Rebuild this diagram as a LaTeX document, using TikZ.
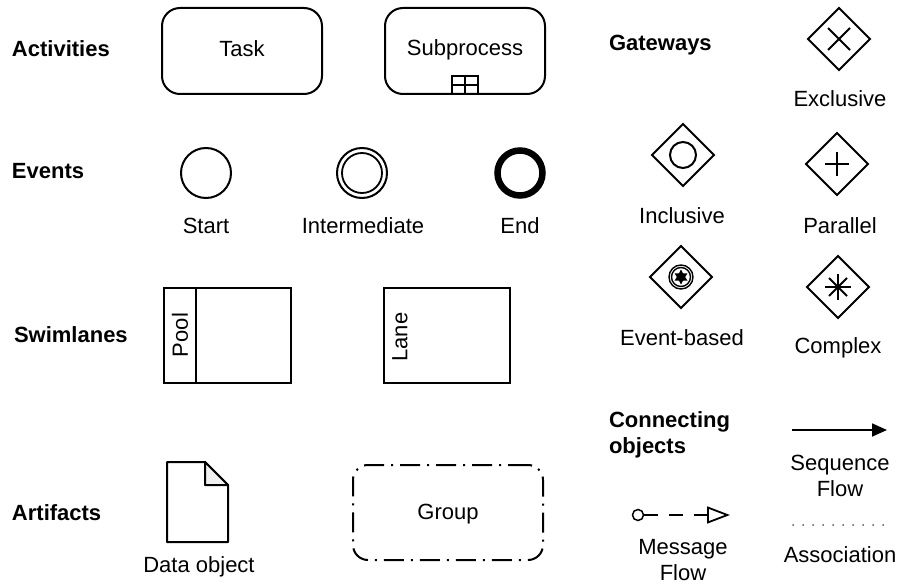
\documentclass[tikz,border=0pt]{standalone}
\usepackage{fontspec}
\setmainfont{Liberation Sans}
\usetikzlibrary{shapes.geometric,arrows.meta}
\begin{document}
\begin{tikzpicture}[x=1pt,y=-1pt,
  every node/.style={font=\fontsize{22}{26}\selectfont, inner sep=0pt, outer sep=0pt},
  heading/.style={anchor=west, font=\fontsize{22}{26}\selectfont\bfseries},
  caption/.style={align=center},
  activity/.style={draw, line width=2pt, rounded corners=18pt, minimum width=160pt, minimum height=86pt},
  gateway/.style={draw, diamond, aspect=1, line width=2pt, minimum width=62pt, minimum height=62pt},
  event/.style={draw, circle, line width=2pt, minimum size=50pt},
  lanebox/.style={draw, line width=2pt, minimum width=127pt, minimum height=95pt},
  glyph/.style={line width=2pt},
]
\useasboundingbox (0,0) rectangle (898,586);

% section headings
\node[heading] (hact) at (12,49) {Activities};
\node[heading] (hev) at (12,171) {Events};
\node[heading] (hswim) at (14,335) {Swimlanes};
\node[heading] (hart) at (12,513) {Artifacts};
\node[heading] (hgw) at (609,45) {Gateways};
\node[heading, align=left] (hcon) at (609,435) {Connecting\\objects};

% activities
\node[activity] (task) at (242,51) {};
\node (ltask) at (242,49) {Task};
\node[activity] (sub) at (465,51) {};
\node (lsub) at (465,50) {Subprocess};
\node[draw, line width=1.8pt, minimum width=26pt, minimum height=18pt, anchor=south] (mk) at (sub.south) {};
\draw[line width=1.8pt] (mk.north) -- (mk.south);
\draw[line width=1.8pt] (mk.west) -- (mk.east);

% events
\node[event] (start) at (206,173) {};
\node[event] (inter) at (362,173) {};
\node[draw, circle, line width=1.8pt, minimum size=40pt] (interin) at (inter) {};
\node[draw, circle, line width=6.5pt, minimum size=45pt] (end) at (520,173) {};
\node (lstart) at (206,226) {Start};
\node (linter) at (363,226) {Intermediate};
\node (lend) at (520,226) {End};

% gateways
\node[gateway] (exc) at (839,39) {};
\draw[glyph] ([shift={(-11,-11)}]exc.center) -- ([shift={(11,11)}]exc.center);
\draw[glyph] ([shift={(-11,11)}]exc.center) -- ([shift={(11,-11)}]exc.center);
\node (lexc) at (840,99) {Exclusive};

\node[gateway] (inc) at (683,155) {};
\node[draw, circle, line width=2pt, minimum size=26pt] (incmark) at (inc) {};
\node (linc) at (682,216) {Inclusive};

\node[gateway] (par) at (837,164) {};
\draw[glyph] ([shift={(-12,0)}]par.center) -- ([shift={(12,0)}]par.center);
\draw[glyph] ([shift={(0,-12)}]par.center) -- ([shift={(0,12)}]par.center);
\node (lpar) at (840,226) {Parallel};

\node[gateway] (evb) at (681,277) {};
\node[draw, circle, line width=1.4pt, minimum size=24pt] (evbo) at (evb) {};
\node[draw, circle, line width=1.4pt, minimum size=19pt] (evbi) at (evb) {};
\node[star, star points=6, star point ratio=1.8, fill=black, minimum size=15pt] (evbstar) at (evb) {};
\node (levb) at (682,338) {Event-based};

\node[gateway] (cpx) at (838,287) {};
\draw[glyph] ([shift={(-13,0)}]cpx.center) -- ([shift={(13,0)}]cpx.center);
\draw[glyph] ([shift={(0,-13)}]cpx.center) -- ([shift={(0,13)}]cpx.center);
\draw[glyph] ([shift={(-9,-9)}]cpx.center) -- ([shift={(9,9)}]cpx.center);
\draw[glyph] ([shift={(-9,9)}]cpx.center) -- ([shift={(9,-9)}]cpx.center);
\node (lcpx) at (838,348) {Complex};

% swimlanes
\node[lanebox] (pool) at (227.5,335.5) {};
\draw[line width=2pt] ([xshift=32pt]pool.north west) -- ([xshift=32pt]pool.south west);
\node[rotate=90] (lpool) at (180,335) {Pool};
\node[lanebox, minimum width=126pt] (lane) at (447,335.5) {};
\node[rotate=90] (llane) at (400,337) {Lane};

% artifacts
\draw[line width=2pt, line join=round] (167,462) -- (205,462) -- (228,485) -- (228,542) -- (167,542) -- cycle;
\draw[line width=2pt, line join=round, fill=gray!12] (205,462) -- (205,485) -- (228,485) -- cycle;
\node (ldata) at (199,567) {Data object};
\node[draw, line width=2pt, rounded corners=15pt, dash pattern=on 20pt off 7pt on 2pt off 7pt,
      minimum width=190pt, minimum height=95pt] (grp) at (448,512.5) {};
\node (lgrp) at (448,514) {Group};

% connecting objects
\coordinate (sqa) at (792,430);
\coordinate (sqb) at (887,430);
\draw[line width=1.8pt, -{Triangle[length=15pt, width=13pt]}] (sqa) -- (sqb);
\node[caption] (lsq) at (840,476) {Sequence\\Flow};

\node[draw, circle, line width=1.5pt, minimum size=11pt] (mfs) at (638,515) {};
\coordinate (mfe) at (730,515);
\draw[line width=1.8pt, dash pattern=on 14pt off 11pt,
      -{Triangle[open, length=23pt, width=17pt, line width=1.8pt]}] (mfs) -- (mfe);
\node[caption] (lmf) at (683,560.5) {Message\\Flow};

\coordinate (asa) at (793,525);
\coordinate (asb) at (884,525);
\draw[gray!70!black, line width=2pt, line cap=round, dash pattern=on 0pt off 10pt] (asa) -- (asb);
\node (lassoc) at (840,555) {Association};
\end{tikzpicture}
\end{document}
